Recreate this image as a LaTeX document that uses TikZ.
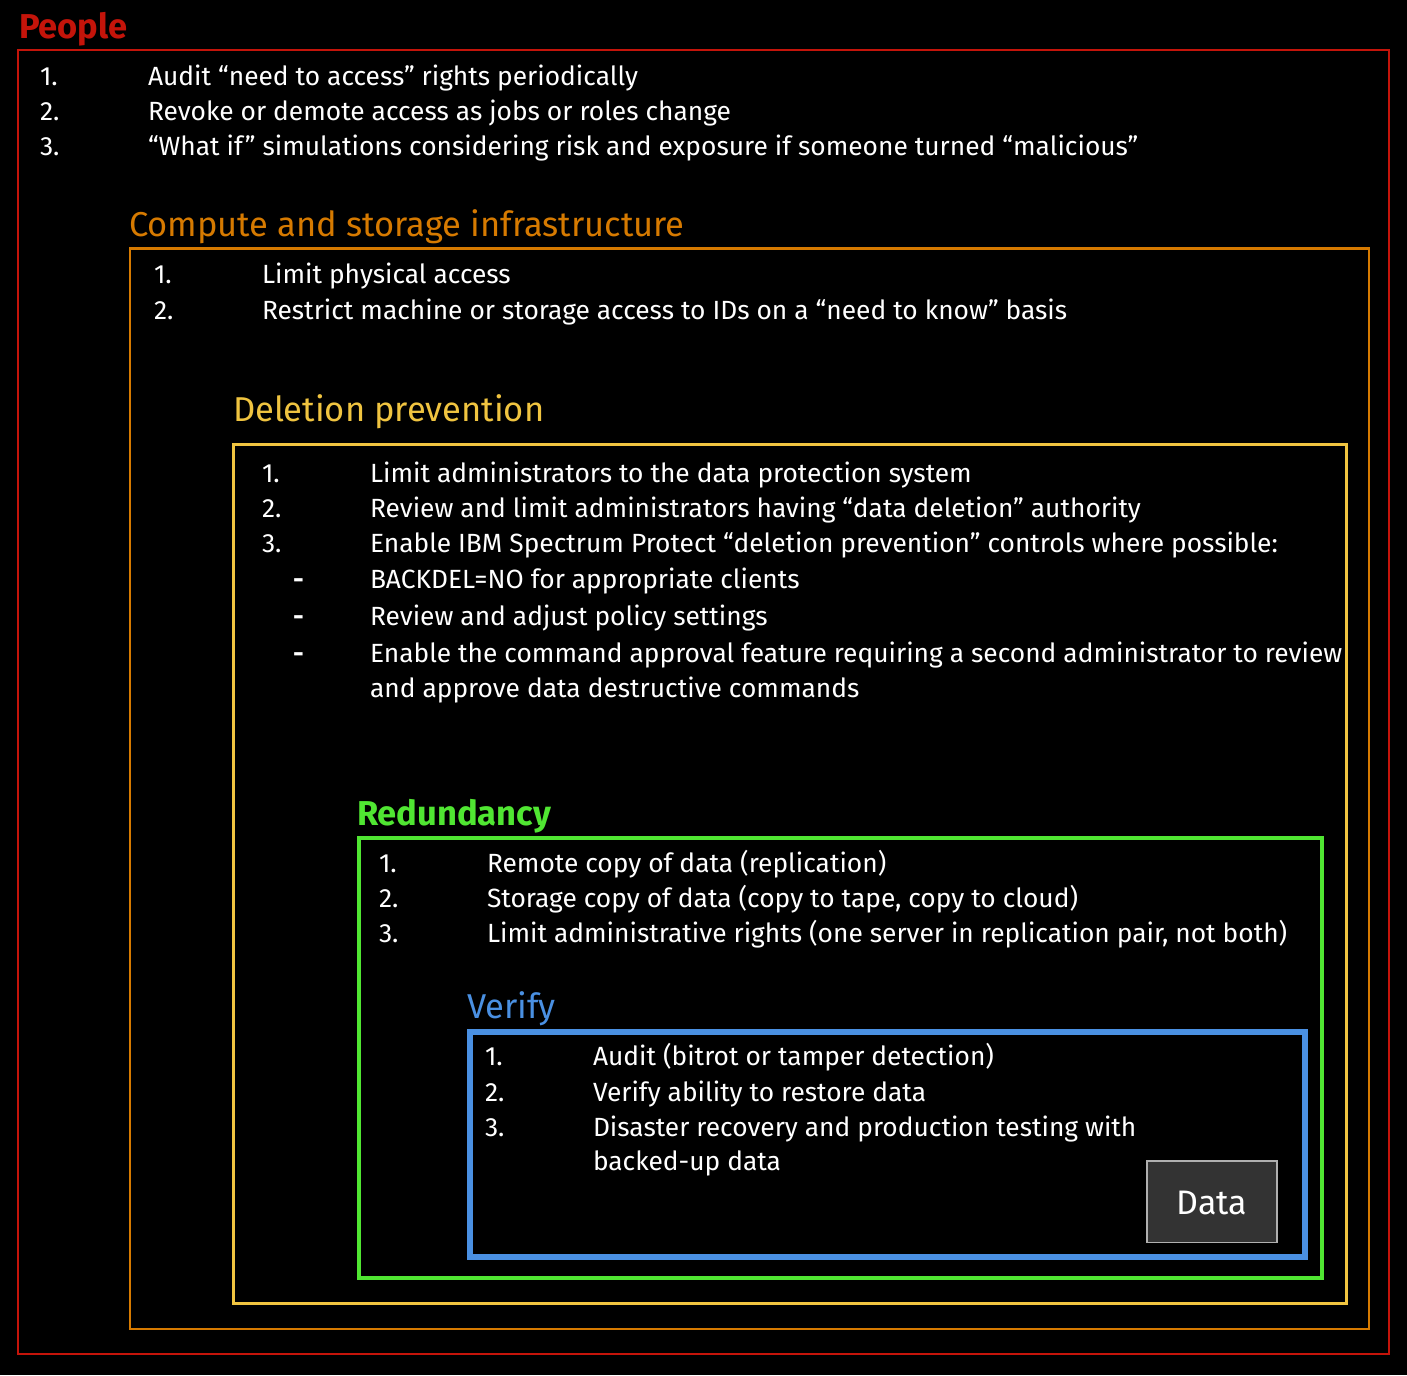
\documentclass[tikz,border=0pt]{standalone}
\usepackage{fontspec}
\setmainfont{Fira Sans}
\definecolor{cred}{RGB}{196,20,10}
\definecolor{corange}{RGB}{214,122,0}
\definecolor{cyellow}{RGB}{240,196,64}
\definecolor{cgreen}{RGB}{80,230,50}
\definecolor{cblue}{RGB}{74,144,226}
\definecolor{cdata}{RGB}{51,51,51}
\definecolor{cdataline}{RGB}{176,176,176}
\begin{document}
\begin{tikzpicture}[x=1pt,y=-1pt,
  txt/.style={anchor=base west, inner sep=0pt, outer sep=0pt, text=white, font=\fontsize{26.35}{30}\selectfont},
  ttl/.style={anchor=base west, inner sep=0pt, outer sep=0pt, font=\fontsize{34.5}{40}\selectfont},
  frame/.style={draw, line join=miter}]
\fill[black] (0,0) rectangle (1407,1375);
\useasboundingbox (0,0) rectangle (1407,1375);

% People
\node[ttl, text=cred, font=\fontsize{34.5}{40}\selectfont\bfseries] (tpeople) at (19,39) {People};
\draw[frame, cred, line width=1.7pt] (18,50) rectangle (1389,1354);
\node[txt] (p1n) at (40,86) {1.};
\node[txt] (p1) at (148,86) {Audit “need to access” rights periodically};
\node[txt] (p2n) at (40,121) {2.};
\node[txt] (p2) at (148,121) {Revoke or demote access as jobs or roles change};
\node[txt] (p3n) at (40,156) {3.};
\node[txt] (p3) at (148,156) {“What if” simulations considering risk and exposure if someone turned “malicious”};

% Compute
\node[ttl, text=corange] (tcomp) at (129,236) {Compute and storage infrastructure};
\draw[frame, corange, line width=2.3pt] (130,248.5) rectangle (1369,1329);
\node[txt] (c1n) at (154,283) {1.};
\node[txt] (c1) at (262,283) {Limit physical access};
\node[txt] (c2n) at (154,319) {2.};
\node[txt] (c2) at (262,319) {Restrict machine or storage access to IDs on a “need to know” basis};

% Deletion prevention
\node[ttl, text=cyellow] (tdel) at (233,421) {Deletion prevention};
\draw[frame, cyellow, line width=3pt] (233.5,444.5) rectangle (1346.5,1303.5);
\node[txt] (d1n) at (262,482) {1.};
\node[txt] (d1) at (370,482) {Limit administrators to the data protection system};
\node[txt] (d2n) at (262,517) {2.};
\node[txt] (d2) at (370,517) {Review and limit administrators having “data deletion” authority};
\node[txt] (d3n) at (262,552) {3.};
\node[txt] (d3) at (370,552) {Enable IBM Spectrum Protect “deletion prevention” controls where possible:};
\node[txt, font=\fontsize{26.35}{30}\selectfont\bfseries] (da) at (293,588) {-};
\node[txt] (dat) at (370,588) {BACKDEL=NO for appropriate clients};
\node[txt, font=\fontsize{26.35}{30}\selectfont\bfseries] (db) at (293,625) {-};
\node[txt] (dbt) at (370,625) {Review and adjust policy settings};
\node[txt, font=\fontsize{26.35}{30}\selectfont\bfseries] (dc) at (293,662) {-};
\node[txt] (dct) at (370,662) {Enable the command approval feature requiring a second administrator to review};
\node[txt] (dct2) at (370,697) {and approve data destructive commands};

% Redundancy
\node[ttl, text=cgreen, font=\fontsize{34.5}{40}\selectfont\bfseries] (tred) at (357,825) {Redundancy};
\draw[frame, cgreen, line width=4.3pt] (359,838) rectangle (1322,1278);
\node[txt] (r1n) at (379,872) {1.};
\node[txt] (r1) at (487,872) {Remote copy of data (replication)};
\node[txt] (r2n) at (379,907) {2.};
\node[txt] (r2) at (487,907) {Storage copy of data (copy to tape, copy to cloud)};
\node[txt] (r3n) at (379,942) {3.};
\node[txt] (r3) at (487,942) {Limit administrative rights (one server in replication pair, not both)};

% Verify
\node[ttl, text=cblue] (tver) at (467,1018) {Verify};
\draw[frame, cblue, line width=6pt] (470,1032) rectangle (1305,1257);
\node[txt] (v1n) at (485,1065) {1.};
\node[txt] (v1) at (593,1065) {Audit (bitrot or tamper detection)};
\node[txt] (v2n) at (485,1101) {2.};
\node[txt] (v2) at (593,1101) {Verify ability to restore data};
\node[txt] (v3n) at (485,1136) {3.};
\node[txt] (v3) at (593,1136) {Disaster recovery and production testing with};
\node[txt] (v3b) at (593,1170) {backed-up data};

% Data
\draw[fill=cdata, draw=cdataline, line width=1.3pt] (1147,1161) rectangle (1277,1242.5);
\node[text=white, inner sep=0pt, font=\fontsize{34}{40}\selectfont] (data) at (1212,1203) {Data};
\end{tikzpicture}
\end{document}
